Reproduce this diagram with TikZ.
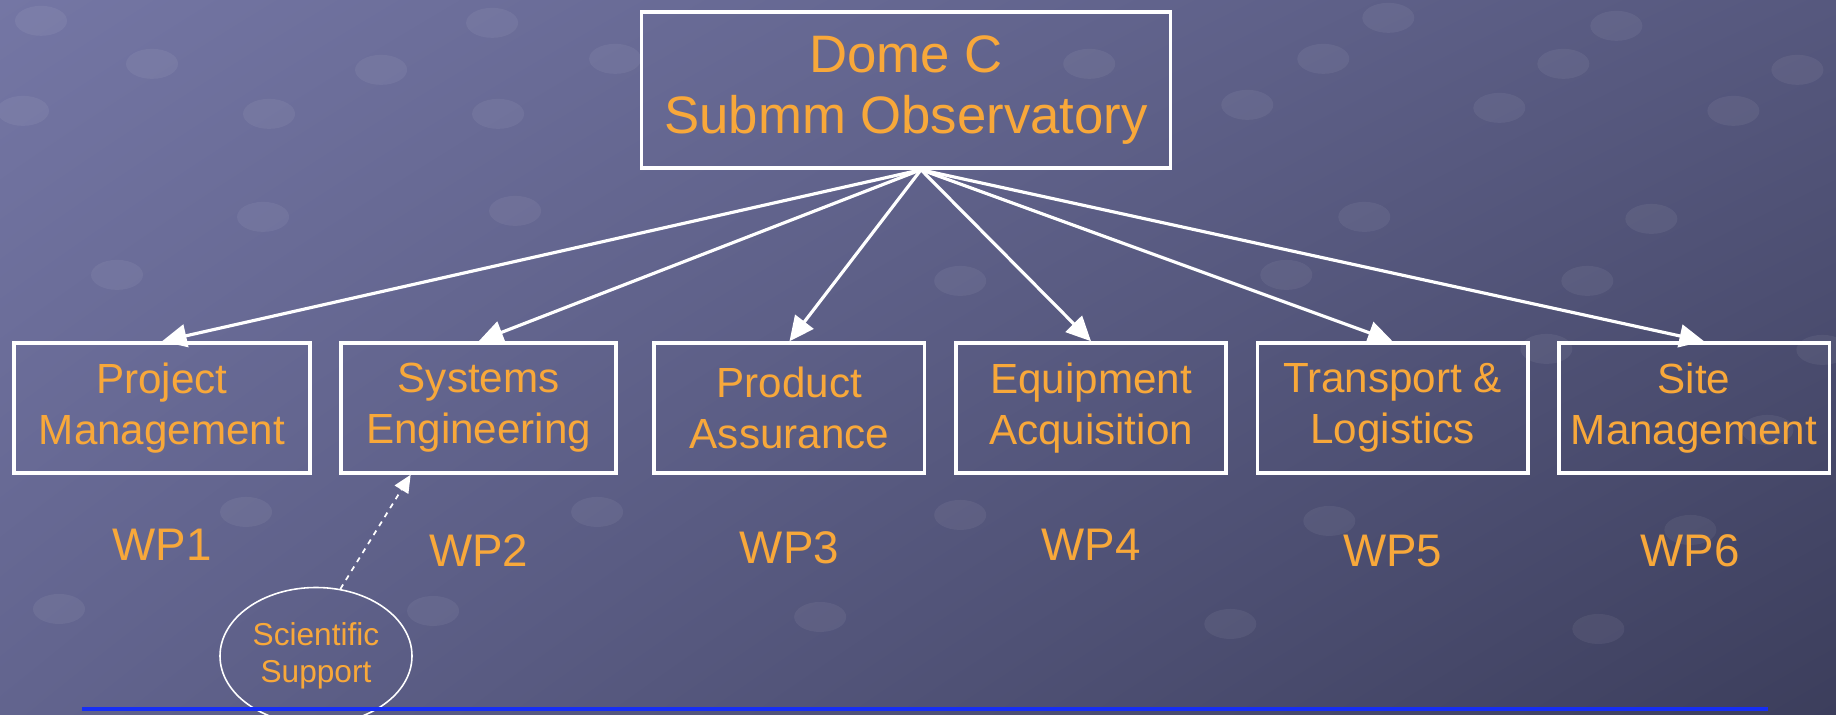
\documentclass[tikz,border=0pt]{standalone}
\usepackage{fontspec}
\setmainfont{Liberation Sans}
\usepackage{xcolor}
\usepackage{tikz}
\usetikzlibrary{arrows.meta, positioning, shapes, calc, shadings}
\definecolor{wporange}{RGB}{248,168,58}
\definecolor{bgtl}{RGB}{116,118,164}
\definecolor{bgtr}{RGB}{86,88,126}
\definecolor{bgbl}{RGB}{98,100,142}
\definecolor{bgbr}{RGB}{60,62,92}
\definecolor{ruleblue}{RGB}{22,46,245}

\begin{document}
\begin{tikzpicture}[node distance=0.55cm,
    wpbox/.style={draw=white, line width=2pt, text=wporange, align=center,
        minimum width=5.41cm, minimum height=2.6cm, inner xsep=0.5cm,
        font=\fontsize{24}{29}\selectfont},
    wplabel/.style={text=wporange, font=\fontsize{26}{31}\selectfont},
    feed/.style={draw=white, line width=1.8pt, -{Triangle[length=14pt, width=13pt]}},
    blob/.style={fill=white, fill opacity=0.06}]

% Background
\useasboundingbox (0,0) rectangle (36.72,14.3);
\shade[upper left=bgtl, upper right=bgtr, lower left=bgbl, lower right=bgbr]
    (0,0) rectangle (36.72,14.3);
\foreach \x/\y in {41/21, 152/64, 269/114, 381/70, 492/23, 615/59, 1089/64,
    1323/59, 1563/64, 1797/70, 1388/18, 1616/26, 23/111, 498/114, 1247/105,
    1499/108, 1733/111, 263/217, 515/211, 1364/217, 1651/219, 117/275,
    960/281, 1286/275, 1587/281, 1546/349, 1822/350, 1767/430, 246/512,
    597/512, 960/515, 1329/521, 1690/530, 59/609, 433/611, 820/617,
    1230/624, 1598/629}
  \fill[blob] ({\x*0.02},{(715-\y)*0.02}) ellipse (0.52 and 0.3);

% Dome C
\node[draw=white, line width=2pt, text=wporange, align=center,
    minimum width=10.58cm, minimum height=3.12cm,
    font=\fontsize{30}{35}\selectfont] (domec) at (18.12,12.5) {
    Dome C\\
    Submm Observatory
};
\coordinate (hub) at ($(domec.south)+(0.3,0)$);

% Work packages
\node[wpbox] (pm) at (3.24,6.14) {Project\\Management};
\node[wpbox, right=of pm] (se) {Systems\\Engineering};
\node[wpbox, right=0.69cm of se] (pa) {Product\\Assurance};
\node[wpbox, right=of pa] (ea) {Equipment\\Acquisition};
\node[wpbox, right=of ea] (tl) {Transport \&\\Logistics};
\node[wpbox, right=of tl] (sm) {Site\\\makebox[0pt]{Management}};

% Arrows
\draw[feed] (hub) -- (pm.north);
\draw[feed] (hub) -- (se.north);
\draw[feed] (hub) -- (pa.north);
\draw[feed] (hub) -- (ea.north);
\draw[feed] (hub) -- (tl.north);
\draw[feed] (hub) -- ($(sm.north)+(0.2,0)$);

% WP numbers
\node[wplabel] (wp1) at ($(pm.south)+(0,-1.4)$) {WP1};
\node[wplabel] (wp2) at ($(se.south)+(0,-1.52)$) {WP2};
\node[wplabel] (wp3) at ($(pa.south)+(0,-1.46)$) {WP3};
\node[wplabel] (wp4) at ($(ea.south)+(0,-1.4)$) {WP4};
\node[wplabel] (wp5) at ($(tl.south)+(0,-1.52)$) {WP5};
\node[wplabel] (wp6) at ($(sm.south)+(-0.08,-1.52)$) {WP6};

% Scientific support
\node[draw=white, line width=0.9pt, ellipse, text=wporange, align=center,
    minimum width=3.84cm, minimum height=2.74cm, inner sep=0pt,
    font=\fontsize{18}{21}\selectfont] (sci) at (6.32,1.18) {
    Scientific\\
    Support
};
\coordinate (se-in) at ($(se.south)+(-1.36,0)$);
\draw[white, line width=1pt, dashed, -{Triangle[length=10pt, width=9pt]}]
    (sci.70) -- (se-in);

% Bottom rule
\draw[ruleblue, line width=0.07cm] (1.64,0.12) -- (35.36,0.12);

\end{tikzpicture}
\end{document}
